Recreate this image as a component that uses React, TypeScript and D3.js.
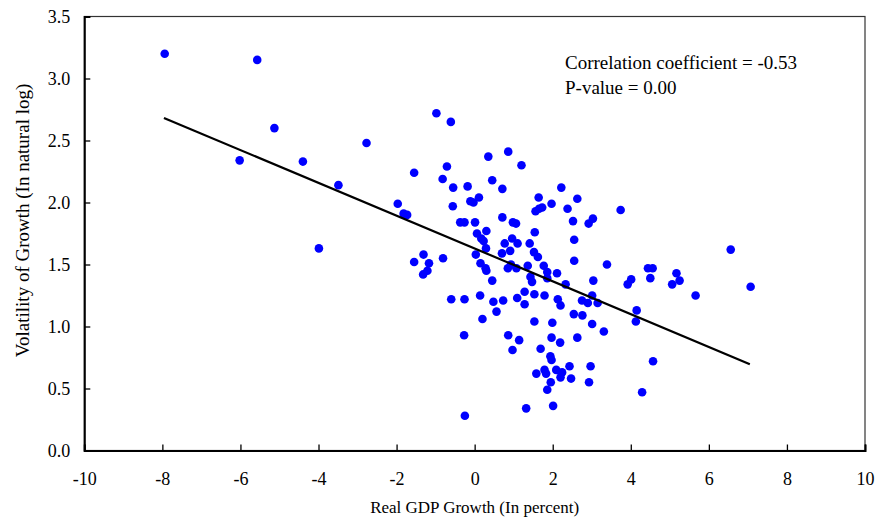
import React, { useRef, useEffect } from "react";
import * as d3 from "d3";

// Real GDP growth (percent) vs volatility of growth (natural log)
const gdpGrowth = [
  -7.94, -5.57, -5.13, -6.02, -4.4, -2.77, -3.49, -3.99, -1.97, -1.82, -1.73, -1.55,
  -0.98, -0.61, -0.71, -0.82, -0.55, -0.56, -0.18, 0.35, 0.45, -0.11, -0.03, 0.11,
  -0.37, -0.26, 0.01, 0.06, 0.3, 0.17, 0.23, 0.29, 0.03, 0.15, 0.28, 0.3,
  -1.31, -1.55, -1.17, -1.21, -1.32, -0.81, 0.45, -0.6, -0.26, 0.14, 0.48, 0.56,
  0.2, -0.27, -0.25, 0.86, 1.2, 0.71, 1.64, 1.56, 1.65, 0.71, 0.98, 1.06,
  1.54, 0.96, 0.77, 1.1, 1.41, 0.91, 0.7, 1.52, 1.62, 0.85, 0.93, 1.07,
  1.36, 2.22, 2.63, 1.97, 1.73, 2.38, 3.74, 2.52, 3.03, 2.92, 2.55, 1.77,
  2.55, 3.39, 4.44, 4.56, 4.5, 5.06, 5.17, 5.25, 5.66, 6.56, 7.07, 1.86,
  2.11, 1.43, 1.47, 1.86, 3.04, 4.01, 3.92, 0.73, 1.09, 1.28, 1.53, 1.28,
  1.79, 2.13, 2.2, 2.33, 2.75, 2.9, 3.01, 3.15, 2.54, 2.76, 3.01, 3.31,
  4.15, 4.13, 4.57, 4.29, 1.53, 1.99, 0.86, 1.14, 0.97, 1.97, 2.19, 2.63,
  1.69, 1.94, 1.97, 1.79, 1.83, 1.58, 2.09, 2.24, 2.2, 2.43, 2.47, 1.95,
  1.86, 2.97, 2.93, 1.32, 2.01,
];
const volatility = [
  3.2, 3.15, 2.6, 2.34, 2.33, 2.48, 2.14, 1.63, 1.99, 1.91, 1.9, 2.24,
  2.72, 2.65, 2.29, 2.19, 2.12, 1.97, 2.13, 2.37, 2.18, 2.01, 2.0, 2.04,
  1.84, 1.84, 1.84, 1.75, 1.77, 1.71, 1.69, 1.63, 1.58, 1.51, 1.47, 1.45,
  1.58, 1.52, 1.51, 1.45, 1.42, 1.55, 1.37, 1.22, 1.22, 1.25, 1.2, 1.12,
  1.06, 0.93, 0.28, 2.41, 2.3, 2.11, 2.04, 1.93, 1.95, 1.88, 1.84, 1.83,
  1.76, 1.71, 1.67, 1.67, 1.67, 1.61, 1.59, 1.6, 1.56, 1.47, 1.5, 1.47,
  1.49, 2.12, 2.03, 1.99, 1.96, 1.95, 1.94, 1.85, 1.87, 1.83, 1.7, 1.49,
  1.53, 1.5, 1.47, 1.47, 1.39, 1.34, 1.43, 1.37, 1.25, 1.62, 1.32, 1.44,
  1.43, 1.4, 1.36, 1.39, 1.37, 1.38, 1.34, 1.21, 1.23, 1.28, 1.26, 1.18,
  1.25, 1.22, 1.17, 1.34, 1.21, 1.19, 1.25, 1.19, 1.1, 1.09, 1.02, 0.96,
  1.13, 1.04, 0.72, 0.47, 1.04, 1.03, 0.93, 0.89, 0.81, 0.91, 0.87, 0.91,
  0.82, 0.76, 0.73, 0.65, 0.62, 0.62, 0.65, 0.63, 0.59, 0.68, 0.58, 0.55,
  0.49, 0.68, 0.55, 0.34, 0.36,
];

// fitted line
const fitIntercept = 1.629;
const fitSlope = -0.1323;
const fitRange = [-7.96, 7.05];

const xTicks = [-10, -8, -6, -4, -2, 0, 2, 4, 6, 8, 10];
const yTicks = [0, 0.5, 1.0, 1.5, 2.0, 2.5, 3.0, 3.5];
const notes = ["Correlation coefficient = -0.53", "P-value = 0.00"];

const W = 878;
const H = 519;
const margin = { left: 84.3, right: 13, top: 16.5, bottom: 68.5 };
const font = "'Liberation Serif', 'Times New Roman', serif";

const App = () => {
  const svgRef = useRef<SVGSVGElement>(null);

  useEffect(() => {
    const svg = d3.select(svgRef.current);
    svg.selectAll("*").remove();

    const x = d3.scaleLinear().domain([-10, 10]).range([margin.left, W - margin.right]);
    const y = d3.scaleLinear().domain([0, 3.5]).range([H - margin.bottom, margin.top]);

    // frame (top / right thin)
    svg
      .append("rect")
      .attr("x", x(-10))
      .attr("y", y(3.5))
      .attr("width", x(10) - x(-10))
      .attr("height", y(0) - y(3.5))
      .attr("fill", "none")
      .attr("stroke", "#333")
      .attr("stroke-width", 1.2);

    // x axis
    const xAxis = svg
      .append("g")
      .attr("transform", `translate(0,${y(0)})`)
      .call(
        d3
          .axisBottom(x)
          .tickValues(xTicks)
          .tickSize(-6)
          .tickPadding(22)
          .tickFormat((d) => String(d))
      );
    xAxis.select(".domain").attr("stroke", "#000").attr("stroke-width", 2);
    xAxis.selectAll(".tick line").attr("stroke", "#000").attr("stroke-width", 1.3);
    xAxis
      .selectAll(".tick text")
      .attr("font-family", font)
      .attr("font-size", 18)
      .attr("fill", "#000");

    // y axis
    const yAxis = svg
      .append("g")
      .attr("transform", `translate(${x(-10)},0)`)
      .call(
        d3
          .axisLeft(y)
          .tickValues(yTicks)
          .tickSize(-6)
          .tickPadding(14)
          .tickFormat((d) => (d as number).toFixed(1))
      );
    yAxis.select(".domain").attr("stroke", "#000").attr("stroke-width", 2);
    yAxis.selectAll(".tick line").attr("stroke", "#000").attr("stroke-width", 1.3);
    yAxis
      .selectAll(".tick text")
      .attr("font-family", font)
      .attr("font-size", 18)
      .attr("fill", "#000");

    // points
    const pts = gdpGrowth.map((g, i) => [g, volatility[i]]);
    svg
      .append("g")
      .selectAll("circle")
      .data(pts)
      .enter()
      .append("circle")
      .attr("cx", (d) => x(d[0]))
      .attr("cy", (d) => y(d[1]))
      .attr("r", 4.3)
      .attr("fill", "#0000ff");

    // regression line
    const line = d3
      .line<number>()
      .x((d) => x(d))
      .y((d) => y(fitIntercept + fitSlope * d));
    svg
      .append("path")
      .attr("d", line(fitRange))
      .attr("fill", "none")
      .attr("stroke", "#000")
      .attr("stroke-width", 2.2);

    // annotation
    svg
      .append("g")
      .selectAll("text")
      .data(notes)
      .enter()
      .append("text")
      .attr("x", 565)
      .attr("y", (d, i) => 69 + i * 24.5)
      .attr("font-family", font)
      .attr("font-size", 19)
      .text((d) => d);

    // axis titles
    svg
      .append("text")
      .attr("x", (x(-10) + x(10)) / 2)
      .attr("y", 513)
      .attr("text-anchor", "middle")
      .attr("font-family", font)
      .attr("font-size", 17)
      .text("Real GDP Growth (In percent)");

    svg
      .append("text")
      .attr("transform", `translate(29,220.5) rotate(-90)`)
      .attr("text-anchor", "middle")
      .attr("font-family", font)
      .attr("font-size", 19)
      .text("Volatility of Growth (In natural log)");
  }, []);

  return (
    <svg
      ref={svgRef}
      width={W}
      height={H}
      style={{ position: "absolute", left: 0, top: 0, background: "#fff" }}
    ></svg>
  );
};

export default App;
